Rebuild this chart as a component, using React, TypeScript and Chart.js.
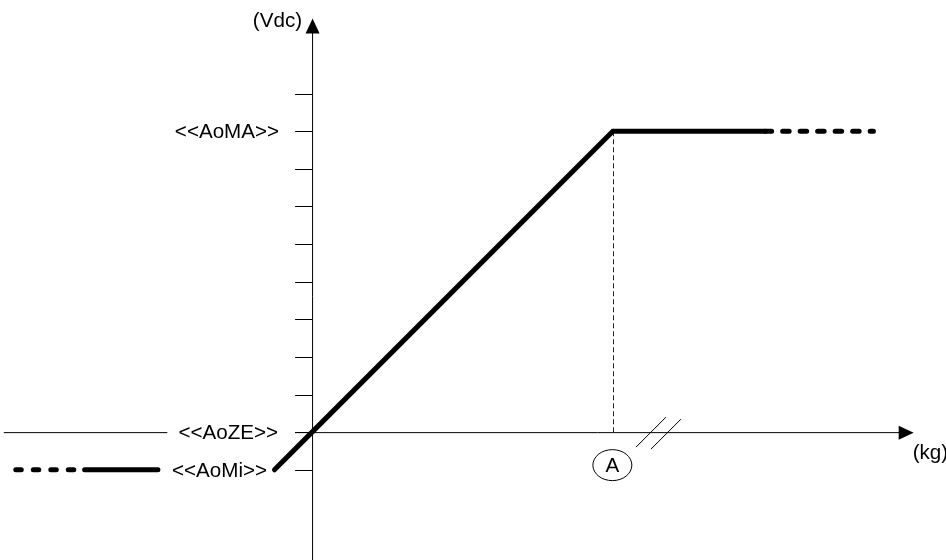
import React, { useEffect, useRef } from "react";
import { Chart, registerables } from "chart.js";

Chart.register(...registerables);

// Axis ranges (value units)
const X_MIN = -8.3;
const X_MAX = 16.86;
const Y_MIN = -3.4;
const Y_MAX = 11.49;

// Y ticks and their labels
const yTickValues = [-1, 0, 1, 2, 3, 4, 5, 6, 7, 8, 9];
const namedYTicks = [8, 0, -1];
const namedYLabels = ["<<AoMA>>", "<<AoZE>>", "<<AoMi>>"];
const xAxisTitle = "(kg)";
const yAxisTitle = "(Vdc)";
const pointA = 8;
const pointALabel = "A";
const xAxisEnd = 16;
const yAxisEnd = 11;
const breakAt = 9.2;
const leftAxisStub = [-8.2, -3.85];

// Transfer curve
const curveX = [-1, 0, 8, 12.05];
const curveY = [-1, 0, 8, 8];
const highTailX = [12.05, 14.93];
const highTailY = [8, 8];
const lowSolidX = [-6.05, -4.1];
const lowSolidY = [-1, -1];
const lowTailX = [-7.88, -6.05];
const lowTailY = [-1, -1];

const toPts = (xs: number[], ys: number[]) => xs.map((x, i) => ({ x, y: ys[i] }));

const FONT = '20px "Liberation Sans", Arial, sans-serif';
const SX = 1.03;

function drawText(ctx: CanvasRenderingContext2D, text: string, x: number, y: number, align: "left" | "right" | "center") {
  ctx.save();
  ctx.font = FONT;
  ctx.textBaseline = "middle";
  ctx.textAlign = align;
  ctx.translate(x, y);
  ctx.scale(SX, 1);
  ctx.fillStyle = "#000";
  ctx.fillText(text, 0, 0);
  ctx.restore();
}

const diagramPlugin = {
  id: "diagram",
  beforeDatasetsDraw(chart: any) {
    const ctx: CanvasRenderingContext2D = chart.ctx;
    const xs = chart.scales.x;
    const ys = chart.scales.y;
    const px = (v: number) => xs.getPixelForValue(v);
    const py = (v: number) => ys.getPixelForValue(v);
    const x0 = px(0);
    const y0 = py(0);
    ctx.save();
    ctx.strokeStyle = "#000";
    ctx.lineWidth = 1;
    ctx.lineCap = "butt";
    // y axis
    ctx.beginPath();
    ctx.moveTo(x0 + 0.5, py(Y_MIN));
    ctx.lineTo(x0 + 0.5, py(yAxisEnd) + 14);
    ctx.stroke();
    // y arrow
    ctx.fillStyle = "#000";
    ctx.beginPath();
    ctx.moveTo(x0 + 0.5, py(yAxisEnd));
    ctx.lineTo(x0 + 0.5 - 7, py(yAxisEnd) + 15);
    ctx.lineTo(x0 + 0.5 + 7, py(yAxisEnd) + 15);
    ctx.closePath();
    ctx.fill();
    // x axis
    ctx.beginPath();
    ctx.moveTo(x0 - 17, y0 + 0.5);
    ctx.lineTo(px(xAxisEnd) - 14, y0 + 0.5);
    ctx.stroke();
    ctx.beginPath();
    ctx.moveTo(px(xAxisEnd), y0 + 0.5);
    ctx.lineTo(px(xAxisEnd) - 15, y0 + 0.5 - 7);
    ctx.lineTo(px(xAxisEnd) - 15, y0 + 0.5 + 7);
    ctx.closePath();
    ctx.fill();
    // left stub of x axis
    ctx.beginPath();
    ctx.moveTo(px(leftAxisStub[0]), y0 + 0.5);
    ctx.lineTo(px(leftAxisStub[1]), y0 + 0.5);
    ctx.stroke();
    // y ticks
    yTickValues.forEach((v) => {
      const y = Math.round(py(v)) + 0.5;
      ctx.beginPath();
      ctx.moveTo(x0 - 17, y);
      ctx.lineTo(x0, y);
      ctx.stroke();
    });
    // break marks
    const bx = px(breakAt);
    ctx.beginPath();
    ctx.moveTo(bx - 22, y0 + 15);
    ctx.lineTo(bx + 8, y0 - 15);
    ctx.moveTo(bx - 7, y0 + 17);
    ctx.lineTo(bx + 23, y0 - 13);
    ctx.stroke();
    // dashed vertical at A
    ctx.setLineDash([5, 3]);
    ctx.strokeStyle = "#222";
    ctx.beginPath();
    ctx.moveTo(Math.round(px(pointA)) + 0.5, py(8));
    ctx.lineTo(Math.round(px(pointA)) + 0.5, y0);
    ctx.stroke();
    ctx.setLineDash([]);
    // circle A
    ctx.strokeStyle = "#000";
    ctx.beginPath();
    ctx.ellipse(px(pointA) - 0.5, y0 + 33, 19.5, 15.5, 0, 0, Math.PI * 2);
    ctx.stroke();
    drawText(ctx, pointALabel, px(pointA) - 0.5, y0 + 34, "center");
    // labels
    drawText(ctx, yAxisTitle, x0 - 10, py(yAxisEnd) + 3, "right");
    drawText(ctx, namedYLabels[0], x0 - 33, py(namedYTicks[0]) + 1.5, "right");
    drawText(ctx, namedYLabels[1], x0 - 34, py(namedYTicks[1]) + 1.5, "right");
    drawText(ctx, namedYLabels[2], x0 - 45, py(namedYTicks[2]) + 1.5, "right");
    drawText(ctx, xAxisTitle, px(xAxisEnd) - 1, y0 + 21, "left");
    ctx.restore();
  },
};

export default function App() {
  const ref = useRef<HTMLCanvasElement | null>(null);
  useEffect(() => {
    if (!ref.current) return;
    const thick = {
      borderColor: "#000",
      borderWidth: 5,
      borderCapStyle: "round" as const,
      borderJoinStyle: "miter" as const,
      pointRadius: 0,
      fill: false,
      tension: 0,
    };
    const chart = new Chart(ref.current, {
      type: "line",
      data: {
        datasets: [
          { ...thick, data: toPts(curveX, curveY) },
          { ...thick, data: toPts(highTailX, highTailY), borderDash: [6.5, 11] },
          { ...thick, data: toPts(lowSolidX, lowSolidY) },
          { ...thick, data: toPts(lowTailX, lowTailY), borderDash: [5.5, 12] },
        ],
      },
      options: {
        responsive: false,
        animation: false,
        layout: { padding: 0 },
        clip: false as any,
        plugins: { legend: { display: false }, tooltip: { enabled: false } },
        scales: {
          x: { type: "linear", min: X_MIN, max: X_MAX, display: false },
          y: { type: "linear", min: Y_MIN, max: Y_MAX, display: false },
        },
      },
      plugins: [diagramPlugin],
    });
    return () => chart.destroy();
  }, []);
  return (
    <div style={{ position: "absolute", left: 0, top: 0, width: 946, height: 560, background: "#fff" }}>
      <canvas ref={ref} width={946} height={560} />
    </div>
  );
}
